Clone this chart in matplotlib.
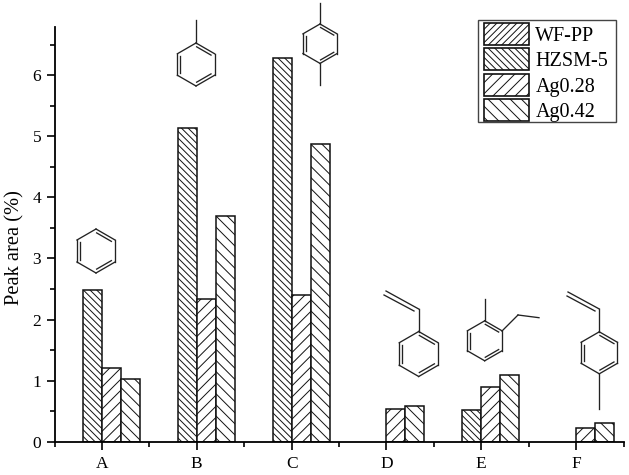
import numpy as np
import matplotlib
matplotlib.use('Agg')
import matplotlib.pyplot as plt
from matplotlib.lines import Line2D
from matplotlib.patches import Patch, Rectangle
from matplotlib.transforms import Affine2D

plt.rcParams['font.family'] = ['Liberation Serif', 'DejaVu Serif']
plt.rcParams['hatch.linewidth'] = 0.7

categories = ['A', 'B', 'C', 'D', 'E', 'F']
series_names = ['WF-PP', 'HZSM-5', 'Ag0.28', 'Ag0.42']
wf_pp = [0, 0, 0, 0, 0, 0]
hzsm5 = [2.49, 5.13, 6.28, 0, 0.52, 0]
ag028 = [1.21, 2.33, 2.40, 0.53, 0.90, 0.22]
ag042 = [1.02, 3.69, 4.87, 0.58, 1.10, 0.31]
hatches = ['/' * 5, '\\' * 5, '/' * 3, '\\' * 3]

W, H = 629, 475
fig = plt.figure(figsize=(W / 100, H / 100), dpi=100)
ax = fig.add_axes([54.5 / W, (H - 441.7) / H, 569 / W, 414.7 / H])

x = np.arange(1, 7)
width = 0.2
all_series = [wf_pp, hzsm5, ag028, ag042]
for i, vals in enumerate(all_series):
    pos = x - 0.4 + width * (i + 0.5)
    # leave out the empty bars
    keep = [j for j, v in enumerate(vals) if v > 0]
    ax.bar(pos[keep], np.array(vals)[keep], width, facecolor='white',
           edgecolor='#111111', linewidth=1.1, hatch=hatches[i])

ax.set_xlim(0.5, 6.5)
ax.set_ylim(0, 6.79)
ax.spines['top'].set_visible(False)
ax.spines['right'].set_visible(False)
ax.spines['left'].set_linewidth(1.3)
ax.spines['bottom'].set_linewidth(1.3)

ax.set_xticks(x)
ax.set_xticklabels(categories)
ax.set_xticks(np.arange(0.5, 7), minor=True)
ax.set_yticks(range(7))
ax.set_yticks(np.arange(0.5, 7), minor=True)
ax.tick_params(axis='both', which='major', length=6, width=1.2, labelsize=12.5)
ax.tick_params(axis='both', which='minor', length=3.3, width=1.2)
ax.tick_params(axis='x', which='major', pad=4.5)
ax.tick_params(axis='y', which='major', pad=3.5)
ax.set_ylabel('Peak area (%)', fontsize=14.8, labelpad=6, y=0.468)

# legend frame is drawn apart so the handles can sit off-centre in it
px = Affine2D().scale(1, -1).translate(0, H)
fig.add_artist(Rectangle((478, 20), 138, 102, facecolor='none', edgecolor='#444444',
                         linewidth=1.0, transform=px))
handles = [Patch(facecolor='white', edgecolor='#111111', linewidth=1.2, hatch=h) for h in hatches]
ax.legend(handles, series_names, loc='upper left',
          bbox_to_anchor=(484 / W, (H - 23) / H), bbox_transform=fig.transFigure,
          fontsize=14.5, handlelength=2.25, handleheight=1.3, handletextpad=0.3,
          labelspacing=0.135, borderpad=0, borderaxespad=0, frameon=False)


# structures are drawn in image pixels
def seg(x0, y0, x1, y1):
    fig.add_artist(Line2D([x0, x1], [y0, y1], color='#222222', lw=0.95, transform=px))


def ring(cx, cy, r):
    ang = np.radians(np.arange(-90, 270, 60))
    vx = cx + r * np.cos(ang)
    vy = cy + r * np.sin(ang)
    for i in range(6):
        seg(vx[i], vy[i], vx[(i + 1) % 6], vy[(i + 1) % 6])
    # inner bonds: top right, lower right, left
    for i in (0, 2, 4):
        j = (i + 1) % 6
        k = 0.84
        ax0 = cx + (vx[i] - cx) * k
        ay0 = cy + (vy[i] - cy) * k
        ax1 = cx + (vx[j] - cx) * k
        ay1 = cy + (vy[j] - cy) * k
        dx, dy = (ax1 - ax0) * 0.04, (ay1 - ay0) * 0.04
        seg(ax0 + dx, ay0 + dy, ax1 - dx, ay1 - dy)


ring(96, 251, 22)

ring(196, 64.5, 21.5)
seg(196, 43, 196, 20)

ring(320, 43.7, 19.7)
seg(320, 24, 320, 3)
seg(320, 63.4, 320, 85)

ring(418.7, 354, 22.5)
seg(418.7, 331.5, 418.7, 309)
seg(418.7, 309, 386, 291)
seg(414, 311, 384, 295)

ring(484.7, 340.8, 20)
seg(484.7, 320.8, 484.7, 299)
seg(502, 331, 518, 315)
seg(518, 315, 539, 317.7)

ring(599.3, 352.8, 21)
seg(599.3, 331.8, 599.3, 309)
seg(599.3, 309, 568, 292)
seg(595, 311, 567, 296)
seg(599.3, 373.8, 599.3, 409)

fig.savefig('out.png', dpi=100)
